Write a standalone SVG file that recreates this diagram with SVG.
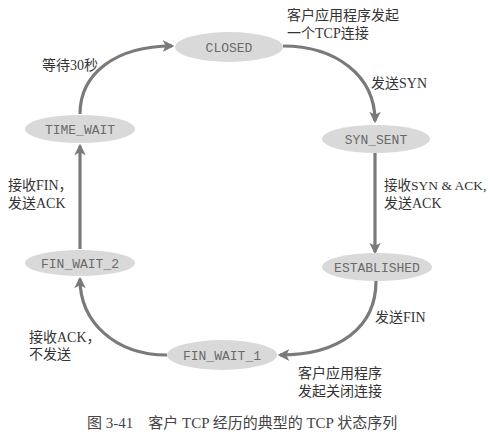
<svg xmlns="http://www.w3.org/2000/svg" width="499" height="438" viewBox="0 0 499 438">
<style>
.node ellipse{fill:#d9d9d9;stroke:none}
.node text{font-family:"Liberation Mono","DejaVu Sans Mono",monospace;font-size:13px;fill:#6a6a6a;text-anchor:middle}
.conn path{fill:none;stroke:#7a7a7a;stroke-width:3.2}
.lbl{font-family:"Liberation Serif","Noto Sans CJK SC",serif;font-size:14px;fill:#333}
.cap{font-family:"Liberation Serif","Noto Sans CJK SC",serif;font-size:15px;fill:#444}
</style>
<defs>
<marker id="ah" viewBox="0 0 10 10" refX="8" refY="5" markerWidth="3.6" markerHeight="3.6" orient="auto" markerUnits="strokeWidth">
<path d="M0,0 L10,5 L0,10 L2.5,5 Z" fill="#7a7a7a"/>
</marker>
</defs>
<rect width="499" height="438" fill="#fff"/>
<g class="conn">
<path d="M80,114 C80,74 115,46 172,46" marker-end="url(#ah)"/>
<path d="M283,46 C335,46 375,75 375,121" marker-end="url(#ah)"/>
<path d="M375,153 L375,252" marker-end="url(#ah)"/>
<path d="M376,281 C376,327 340,355 280,355" marker-end="url(#ah)"/>
<path d="M167,355 C115,355 80,322 80,279" marker-end="url(#ah)"/>
<path d="M80,249 L80,146" marker-end="url(#ah)"/>
</g>
<g id="closed" class="node"><ellipse cx="229" cy="47" rx="54" ry="15"/><text x="229" y="51.5">CLOSED</text></g>
<g id="syn_sent" class="node"><ellipse cx="376" cy="139" rx="54" ry="14"/><text x="376" y="143.5">SYN_SENT</text></g>
<g id="established" class="node"><ellipse cx="377" cy="267" rx="55" ry="14"/><text x="377" y="271.5">ESTABLISHED</text></g>
<g id="fin_wait_1" class="node"><ellipse cx="222" cy="355" rx="55" ry="15"/><text x="222" y="359.5">FIN_WAIT_1</text></g>
<g id="fin_wait_2" class="node"><ellipse cx="80" cy="263" rx="55" ry="13"/><text x="80" y="267.5">FIN_WAIT_2</text></g>
<g id="time_wait" class="node"><ellipse cx="80" cy="129" rx="55" ry="14"/><text x="80" y="133.5">TIME_WAIT</text></g>
<g id="labels">
<text class="lbl" x="287" y="20">客户应用程序发起</text>
<text class="lbl" x="287" y="38">一个TCP连接</text>
<text class="lbl" x="371" y="88">发送SYN</text>
<text class="lbl" x="384" y="190" style="font-size:13.5px">接收SYN &amp; ACK,</text>
<text class="lbl" x="384" y="208">发送ACK</text>
<text class="lbl" x="375" y="322">发送FIN</text>
<text class="lbl" x="298" y="378">客户应用程序</text>
<text class="lbl" x="298" y="396">发起关闭连接</text>
<text class="lbl" x="29" y="342">接收ACK，</text>
<text class="lbl" x="29" y="359">不发送</text>
<text class="lbl" x="8" y="190">接收FIN，</text>
<text class="lbl" x="8" y="208">发送ACK</text>
<text class="lbl" x="42" y="70">等待30秒</text>
<text class="cap" x="87" y="428" xml:space="preserve">图 3-41    客户 TCP 经历的典型的 TCP 状态序列</text>
</g>
</svg>
